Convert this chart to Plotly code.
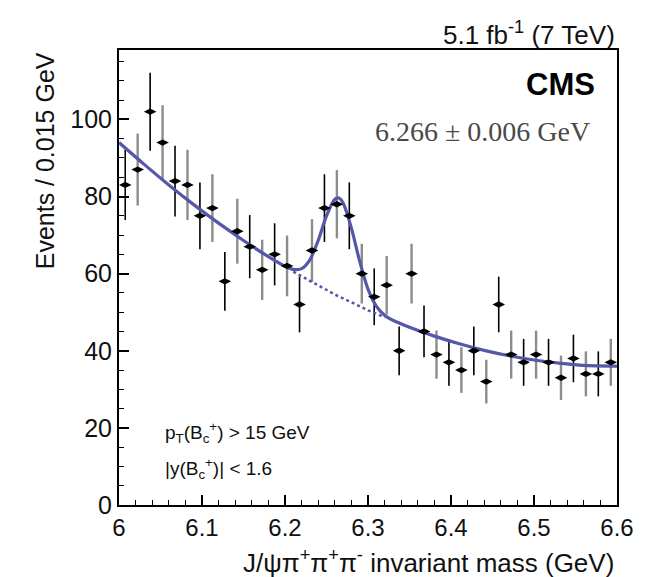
import numpy as np
import plotly.graph_objects as go

# ---- data ----
bin_width = 0.015
bin_centers = [round(6.0 + bin_width * (i + 0.5), 4) for i in range(40)]
counts = [83, 87, 102, 94, 84, 83, 75, 77, 58, 71,
          67, 61, 65, 62, 52, 66, 77, 78, 75, 60,
          54, 57, 40, 60, 45, 39, 37, 35, 40, 32,
          52, 39, 37, 39, 37, 33, 38, 34, 34, 37]

# full fit (signal + background)
fit_x = [6.00, 6.03, 6.06, 6.09, 6.12, 6.15, 6.18, 6.20, 6.21, 6.22, 6.23, 6.24,
         6.25, 6.26, 6.265, 6.27, 6.28, 6.29, 6.30, 6.31, 6.32, 6.33, 6.35, 6.38,
         6.41, 6.44, 6.47, 6.50, 6.53, 6.56, 6.60]
fit_y = [94.0, 88.4, 83.0, 77.9, 73.1, 68.6, 64.4, 61.9, 61.1, 61.3, 63.6, 68.6,
         75.0, 79.3, 79.6, 78.3, 71.8, 63.2, 56.0, 51.6, 49.2, 47.9, 46.1, 43.8,
         41.8, 40.1, 38.7, 37.6, 36.8, 36.2, 36.0]

# background-only component (dashed) under the peak
bkg_x = [6.21, 6.22, 6.23, 6.24, 6.25, 6.26, 6.27, 6.28, 6.29, 6.30, 6.31, 6.32]
bkg_y = [60.5, 59.3, 58.1, 56.9, 55.7, 54.6, 53.6, 52.5, 51.5, 50.5, 49.6, 48.6]

x_tick_vals = [6.0, 6.1, 6.2, 6.3, 6.4, 6.5, 6.6]
x_tick_text = ["6", "6.1", "6.2", "6.3", "6.4", "6.5", "6.6"]
y_tick_vals = [0, 20, 40, 60, 80, 100]

errs = np.sqrt(np.array(counts, dtype=float))

FONT = "Liberation Sans, Arial, Helvetica, sans-serif"
SERIF = "Liberation Serif, DejaVu Serif, serif"
CURVE = "#5558a8"
NB = "\u00a0"

fig = go.Figure()

# error bars (alternating rendering tones as in the scan)
for parity, col, th in [(0, "black", 1.6), (1, "#8c8c8c", 2.4)]:
    idx = [i for i in range(len(counts)) if i % 2 == parity]
    fig.add_trace(go.Scatter(
        x=[bin_centers[i] for i in idx], y=[counts[i] for i in idx],
        mode="markers", marker=dict(size=1, color="rgba(0,0,0,0)"),
        error_y=dict(type="data", array=[errs[i] for i in idx], color=col,
                     thickness=th, width=0),
        showlegend=False, hoverinfo="skip"))

fig.add_trace(go.Scatter(x=bkg_x, y=bkg_y, mode="lines",
                         line=dict(color=CURVE, width=2.5, dash="dot"),
                         showlegend=False))
fig.add_trace(go.Scatter(x=fit_x, y=fit_y, mode="lines",
                         line=dict(color=CURVE, width=3.2, shape="spline", smoothing=0.8),
                         showlegend=False))
fig.add_trace(go.Scatter(x=bin_centers, y=counts, mode="markers",
                         marker=dict(symbol="diamond-wide", size=9, color="black"),
                         showlegend=False))

fig.update_layout(
    width=654, height=577,
    margin=dict(l=119, r=37, t=50, b=72),
    paper_bgcolor="white", plot_bgcolor="white",
    font=dict(family=FONT, size=24, color="#111"),
    xaxis=dict(range=[6.0, 6.6], tickvals=x_tick_vals, ticktext=x_tick_text,
               ticks="inside", ticklen=10, tickwidth=1.5, tickcolor="black",
               minor=dict(dtick=0.02, tick0=6.0, ticks="inside", ticklen=5,
                          tickwidth=1.2, tickcolor="black"),
               showline=True, linecolor="black", linewidth=2, mirror=True,
               showgrid=False, zeroline=False, tickfont=dict(size=24)),
    yaxis=dict(range=[0, 118], tickvals=y_tick_vals,
               ticks="inside", ticklen=10, tickwidth=1.5, tickcolor="black",
               minor=dict(dtick=5, tick0=0, ticks="inside", ticklen=5,
                          tickwidth=1.2, tickcolor="black"),
               showline=True, linecolor="black", linewidth=2, mirror=True,
               showgrid=False, zeroline=False, tickfont=dict(size=25)),
)

ann = [
    dict(text="5.1 fb<sup>-1</sup> (7 TeV)", x=1.0, y=1.037, xanchor="right",
         yanchor="middle", font=dict(size=26)),
    dict(text="<b>CMS</b>", x=0.96, y=0.925, xanchor="right", yanchor="middle",
         font=dict(size=31, color="black")),
    dict(text="6.266" + NB + "±" + NB + "0.006" + NB + "GeV", x=0.95, y=0.82,
         xanchor="right", yanchor="middle",
         font=dict(size=28, family=SERIF, color="#4a4a4a")),
    dict(text="p<sub>T</sub>(B<sub>c</sub><sup>+</sup>) > 15 GeV", x=0.088, y=0.16,
         xanchor="left", yanchor="middle", font=dict(size=19)),
    dict(text="|y(B<sub>c</sub><sup>+</sup>)| < 1.6", x=0.088, y=0.081,
         xanchor="left", yanchor="middle", font=dict(size=19)),
    dict(text="Events / 0.015 GeV", x=-0.149, y=1.0, xanchor="center", yanchor="top",
         textangle=-90, font=dict(size=25)),
    dict(text="J/ψπ<sup>+</sup>π<sup>+</sup>π<sup>-</sup> invariant mass (GeV)",
         x=0.998, y=-0.124, xanchor="right", yanchor="middle", font=dict(size=26)),
]
for a in ann:
    a.update(xref="paper", yref="paper", showarrow=False)
    fig.add_annotation(**a)

fig.write_html("out.html")
